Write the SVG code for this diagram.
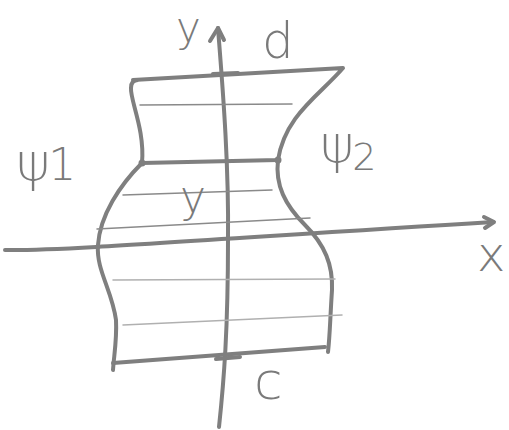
<svg xmlns="http://www.w3.org/2000/svg" width="509" height="430" viewBox="0 0 509 430">
<style>
.s{fill:none;stroke:#7f7f7f;stroke-width:4;stroke-linecap:round;stroke-linejoin:round}
.h{fill:none;stroke:#8a8a8a;stroke-width:1.5;stroke-linecap:round}
.hl{fill:none;stroke:#b0b0b0;stroke-width:1.5;stroke-linecap:round}
.t{font-family:"DejaVu Sans",sans-serif;fill:#7a7a7a;font-weight:300}
</style>
<rect width="509" height="430" fill="#fff"/>
<g id="connectors">
<path class="s" d="M5,250 C60,251 200,240 493,222"/>
<path class="s" d="M484,217 L494,222 L485,228"/>
<path class="s" d="M219,427 C224,380 228,330 228,240 C229,160 222,80 218,28"/>
<path class="s" d="M210,41 L218,28 L224,40"/>
</g>
<g id="region">
<path class="s" d="M133,80 L343,68 C320,95 285,115 278,160 L142,163 C145,130 130,100 131,88 Q131,80 138,80"/>
<path class="s" d="M142,163 C120,185 100,215 98,245 C96,270 112,290 116,320 C117,340 114,355 113,370"/>
<path class="s" d="M278,160 C275,185 285,205 305,225 C325,245 333,265 332,290 C330,320 330,335 328,352"/>
<path class="s" d="M113,363 L325,347"/>
<path class="s" d="M213,74 L238,73"/>
<path class="s" d="M216,359 L240,357"/>
<circle cx="142" cy="163" r="3.5" fill="#7f7f7f"/>
<circle cx="278" cy="160" r="3.5" fill="#7f7f7f"/>
</g>
<g id="hatching">
<path class="h" d="M140,105 L292,104"/>
<path class="h" d="M123,195 L272,190"/>
<path class="h" d="M97,229 L310,218"/>
<path class="hl" d="M113,280 L335,279"/>
<path class="hl" d="M123,325 L342,315"/>
</g>
<g id="labels">
<text class="t" x="176" y="42" font-size="42">y</text>
<text class="t" x="262" y="58" font-size="50">d</text>
<text class="t" x="16" y="180" font-size="52">ψ<tspan font-size="44" dx="-2">1</tspan></text>
<text class="t" x="320" y="162" font-size="52">ψ<tspan font-size="38" dy="8" dx="-2">2</tspan></text>
<text class="t" x="180" y="212" font-size="44">y</text>
<text class="t" x="477" y="271" font-size="48">x</text>
<text class="t" x="254" y="399" font-size="52">c</text>
</g>
</svg>
